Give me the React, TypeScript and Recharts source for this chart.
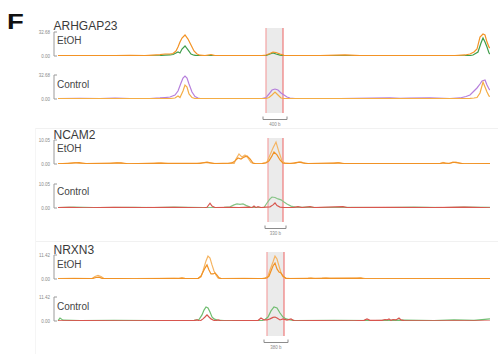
import React from 'react';
import { LineChart, Line, XAxis, YAxis, ReferenceArea, ReferenceLine } from 'recharts';

type Pt = [number, number];

// x = genomic bin index across the locus window (0..436), y = normalized signal
const panelGenes = ['ARHGAP23', 'NCAM2', 'NRXN3'];
const trackNames = ['EtOH', 'Control'];
const panelMax = [32.68, 10.05, 11.42];
const regionStart = [212, 214, 213];
const regionEnd = [229, 229, 230];
const scaleStart = [209, 211, 210];
const scaleEnd = [233, 232, 234];
const scaleLabels = ['400 b', '330 b', '380 b'];

// ARHGAP23 EtOH
const arhEtohGreen: Pt[] = [[4,0.3],[16,0.3],[31,0.3],[46,0.4],[61,0.3],[76,0.5],[91,0.3],[106,0.7],[111,1.1],[116,1.4],[119,2.0],[122,4.1],[124,5.4],[126,4.1],[128,9.5],[131,13.6],[134,8.2],[137,2.7],[140,1.1],[143,0.5],[146,0.4],[151,0.3],[157,0.5],[161,0.3],[176,0.3],[196,0.3],[208,0.3],[212,0.7],[216,2.7],[219,4.1],[222,2.7],[226,1.1],[230,0.5],[236,0.3],[246,0.3],[266,0.3],[291,0.7],[306,0.3],[326,0.3],[346,0.3],[366,0.5],[386,0.3],[401,0.3],[411,0.4],[416,0.7],[419,1.4],[424,5.4],[427,17.7],[429,24.5],[431,19.0],[433,12.2],[435,4.1],[436,2.7]];
const arhEtohOrange: Pt[] = [[4,0.4],[16,0.5],[31,0.4],[46,0.7],[61,0.4],[76,0.8],[91,0.4],[106,2.0],[111,2.7],[116,2.7],[119,3.4],[122,6.8],[124,12.2],[126,19.0],[128,24.5],[131,28.6],[134,23.1],[137,15.0],[140,6.8],[143,2.7],[146,1.1],[151,0.5],[157,2.0],[161,0.5],[176,0.4],[196,0.5],[208,0.5],[212,1.4],[216,3.4],[219,5.4],[222,4.8],[226,2.7],[230,0.8],[236,0.5],[246,0.4],[266,0.5],[291,1.6],[306,0.4],[326,0.5],[346,0.4],[366,0.5],[386,0.4],[401,0.7],[411,1.4],[416,2.7],[420,5.4],[423,9.5],[426,25.8],[429,29.9],[431,28.6],[433,19.0],[435,12.2],[436,10.9]];
// ARHGAP23 Control
const arhCtrlPurple: Pt[] = [[4,0.4],[26,0.8],[46,0.5],[61,1.1],[76,0.5],[96,0.7],[106,1.4],[111,2.0],[116,2.7],[121,5.4],[124,10.9],[127,21.8],[129,28.6],[131,31.3],[133,28.6],[135,20.4],[138,9.5],[141,3.4],[144,1.4],[146,0.7],[161,0.5],[176,0.7],[196,0.4],[208,0.5],[212,2.0],[215,6.8],[218,12.2],[221,13.6],[224,12.2],[227,8.2],[230,5.4],[233,2.7],[236,1.4],[241,0.7],[246,0.4],[286,0.5],[336,1.4],[346,0.8],[356,1.1],[376,1.4],[396,0.7],[406,1.4],[412,3.4],[416,5.4],[420,10.9],[423,15.0],[426,20.4],[428,24.5],[431,25.8],[433,19.0],[435,13.6],[436,12.2]];
const arhCtrlOrange: Pt[] = [[4,0.4],[16,0.5],[31,0.4],[46,0.5],[61,0.4],[76,0.7],[91,0.4],[106,0.5],[116,0.7],[121,1.4],[124,4.1],[126,2.0],[129,10.9],[131,19.0],[133,16.3],[135,6.8],[138,2.0],[141,0.7],[146,0.4],[161,0.5],[176,0.4],[196,0.5],[208,0.4],[212,0.7],[215,2.0],[218,5.4],[221,9.5],[224,5.4],[227,1.4],[230,0.7],[236,0.5],[246,0.4],[286,0.7],[336,0.5],[376,0.5],[406,0.7],[416,0.8],[420,1.4],[423,2.0],[426,8.2],[429,23.1],[431,16.3],[433,9.5],[435,4.1],[436,3.4]];
// NCAM2 EtOH
const ncamEtohA: Pt[] = [[4,0.13],[14,0.2],[21,0.63],[28,0.2],[56,0.2],[63,0.55],[70,0.17],[100,0.17],[107,0.5],[114,0.17],[143,0.2],[150,0.63],[157,0.34],[162,0.13],[174,0.2],[178,0.63],[180,0.08],[182,2.1],[185,4.2],[188,2.9],[191,3.8],[194,2.5],[197,0.63],[200,0.17],[208,0.2],[213,0.84],[216,3.8],[219,6.7],[222,9.2],[225,5.0],[228,1.3],[231,0.34],[240,0.17],[244,0.63],[247,0.84],[251,0.17],[280,0.17],[284,0.63],[288,0.2],[330,0.13],[386,0.17],[389,0.63],[392,0.13],[397,0.42],[402,0.84],[407,0.2],[436,0.13]];
const ncamEtohB: Pt[] = [[4,0.1],[18,0.4],[25,0.6],[32,0.2],[60,0.4],[67,0.5],[74,0.1],[104,0.4],[110,0.3],[146,0.3],[153,0.8],[160,0.2],[178,0.4],[181,1.3],[184,2.5],[187,2.1],[190,2.9],[193,3.4],[196,2.1],[199,0.4],[202,0.1],[208,0.2],[212,0.4],[215,1.3],[218,3.4],[220,5.0],[223,3.8],[226,1.7],[229,0.4],[236,0.2],[245,0.8],[249,0.5],[254,0.2],[285,0.5],[290,0.2],[386,0.2],[390,0.5],[395,0.2],[399,0.8],[404,0.5],[410,0.1],[436,0.2]];
// NCAM2 Control
const ncamCtrlGreen: Pt[] = [[4,0.2],[20,0.4],[40,0.2],[80,0.3],[100,0.2],[120,0.4],[150,0.2],[170,0.3],[176,0.5],[180,1.3],[183,1.7],[186,1.5],[189,1.7],[192,1.1],[196,0.4],[200,0.3],[206,0.2],[210,0.2],[213,2.1],[216,3.8],[218,4.6],[221,4.4],[224,3.8],[227,3.4],[230,2.5],[233,1.7],[237,0.8],[242,0.3],[256,0.4],[262,0.2],[290,0.3],[330,0.2],[360,0.4],[390,0.2],[410,0.4],[436,0.3]];
const ncamCtrlRed: Pt[] = [[4,0.2],[15,0.3],[30,0.1],[60,0.3],[90,0.2],[120,0.3],[150,0.1],[153,0.3],[156,2.0],[158,0.8],[161,0.2],[175,0.3],[185,0.2],[195,0.4],[198,0.1],[200,0.8],[202,0.1],[204,0.6],[207,0.2],[212,0.4],[216,0.5],[219,1.3],[221,2.1],[223,1.0],[226,0.4],[230,0.2],[240,0.3],[244,0.6],[248,0.2],[256,0.6],[260,0.2],[289,0.6],[293,0.2],[330,0.3],[380,0.2],[410,0.4],[436,0.1]];
// NRXN3 EtOH
const nrxEtohA: Pt[] = [[4,0.2],[20,0.3],[38,0.2],[41,1.2],[44,1.7],[47,1.2],[50,0.2],[80,0.2],[120,0.3],[125,0.2],[128,0.7],[131,0.3],[144,0.2],[147,1.0],[149,3.8],[152,8.6],[154,10.9],[156,10.0],[158,6.7],[160,3.8],[162,1.9],[164,0.5],[167,0.2],[190,0.3],[205,0.2],[211,0.2],[214,1.4],[216,4.3],[219,8.1],[221,10.9],[223,9.5],[225,6.2],[227,2.9],[229,1.0],[232,0.4],[236,0.2],[254,0.3],[257,0.6],[261,0.3],[268,0.4],[272,0.6],[276,0.3],[303,0.3],[307,0.6],[311,0.2],[360,0.2],[400,0.1],[436,0.1]];
const nrxEtohB: Pt[] = [[4,0.1],[39,0.3],[42,0.7],[45,0.9],[48,0.3],[80,0.1],[127,0.3],[130,0.2],[144,0.2],[147,1.4],[149,3.3],[151,5.2],[153,6.7],[155,4.3],[157,2.4],[159,2.4],[161,2.9],[163,1.9],[165,0.5],[168,0.1],[190,0.2],[208,0.2],[213,0.5],[215,1.4],[217,3.8],[219,6.2],[221,7.6],[223,4.8],[225,3.3],[227,2.9],[229,1.4],[232,0.2],[255,0.3],[259,0.2],[270,0.3],[306,0.4],[310,0.1],[436,0.2]];
// NRXN3 Control
const nrxCtrlGreen: Pt[] = [[4,0.2],[6,1.4],[9,0.4],[26,0.2],[60,0.3],[100,0.2],[140,0.3],[145,0.7],[148,2.9],[150,5.2],[152,6.7],[154,6.2],[156,4.3],[158,1.9],[160,1.0],[163,0.4],[170,0.2],[200,0.2],[208,0.2],[211,0.7],[214,1.9],[217,4.8],[220,6.7],[223,6.2],[226,3.8],[229,1.9],[232,1.0],[236,0.5],[241,0.2],[280,0.3],[320,0.2],[350,0.4],[380,0.2],[400,0.5],[420,0.3],[436,1.0]];
const nrxCtrlRed: Pt[] = [[4,0.1],[30,0.2],[70,0.1],[110,0.2],[140,0.2],[143,0.5],[146,0.0],[149,1.0],[151,1.9],[153,2.9],[155,1.9],[157,1.0],[159,0.5],[161,0.1],[164,0.5],[167,0.1],[190,0.2],[204,0.2],[207,1.4],[210,0.5],[213,0.5],[216,1.0],[219,1.7],[221,1.9],[223,1.4],[226,0.5],[229,1.0],[233,0.4],[237,1.0],[240,0.1],[260,0.2],[300,0.1],[310,0.3],[313,1.0],[316,0.3],[328,0.3],[331,0.7],[333,0.5],[335,1.0],[337,0.3],[339,0.7],[342,0.5],[345,1.4],[347,0.5],[350,0.2],[380,0.1],[420,0.1],[436,0.0]];

// ---- layout / style ----
const W = 498;
const PLOT_LEFT = 54;
const PLOT_RIGHT = 8;
const X_DOMAIN: [number, number] = [0, 436];
const FONT = '"Liberation Sans", Arial, Helvetica, sans-serif';

const bandTop = [28, 138, 252];
const bandBottom = [113, 222, 336];
const trackPlotTop = [[32, 75], [140, 184], [255, 297]];
const TRACK_H = 24;
const titleBaseline = [30, 138.5, 253.5];
const labelBaseline = [[44, 87.5], [152, 195], [267.5, 310]];

type SeriesDef = { data: Pt[]; color: string };
const trackSeries: SeriesDef[][][] = [
  [
    [{ data: arhEtohGreen, color: '#3f9d4a' }, { data: arhEtohOrange, color: '#f39325' }],
    [{ data: arhCtrlPurple, color: '#b67fdc' }, { data: arhCtrlOrange, color: '#f4ad45' }],
  ],
  [
    [{ data: ncamEtohA, color: '#f5b665' }, { data: ncamEtohB, color: '#f19225' }],
    [{ data: ncamCtrlGreen, color: '#86c486' }, { data: ncamCtrlRed, color: '#d8564e' }],
  ],
  [
    [{ data: nrxEtohA, color: '#f5b461' }, { data: nrxEtohB, color: '#f19225' }],
    [{ data: nrxCtrlGreen, color: '#71bd71' }, { data: nrxCtrlRed, color: '#d8554e' }],
  ],
];

const toRows = (pts: Pt[]) => pts.map(([x, y]) => ({ x, y }));

const AxisTick = (props: any) => {
  const { x, y, payload } = props;
  return (
    <g>
      <line x1={x + 3} x2={x + 6} y1={y} y2={y} stroke="#9a9a9a" strokeWidth={1} />
      <text x={x - 1} y={y} dy={1.6} textAnchor="end" fontSize={4.5} fill="#8a8a8a">
        {Number(payload.value).toFixed(2)}
      </text>
    </g>
  );
};

const ScaleBar = (props: any) => {
  const { x, y, width, height, text } = props;
  const by = y + height + 6.5;
  return (
    <g>
      <path d={`M${x},${by - 3}V${by}H${x + width}V${by - 3}`} stroke="#8c8c8c" strokeWidth={1} fill="none" />
      <text x={x + width / 2} y={by + 6.5} textAnchor="middle" fontSize={4.5} fill="#8a8a8a">{text}</text>
    </g>
  );
};

const BandChart = ({ p }: { p: number }) => {
  const h = bandBottom[p] - bandTop[p];
  const frame = [{ x: X_DOMAIN[0], y: 0 }, { x: X_DOMAIN[1], y: 1 }];
  return (
    <div style={{ position: 'absolute', left: 0, top: bandTop[p] }}>
      <LineChart width={W} height={h + 16} margin={{ top: 0, right: PLOT_RIGHT, bottom: 16, left: PLOT_LEFT }} data={frame}>
        <XAxis type="number" dataKey="x" domain={X_DOMAIN} hide />
        <YAxis type="number" domain={[0, 1]} hide />
        <Line dataKey="y" stroke="none" dot={false} activeDot={false} isAnimationActive={false} />
        <ReferenceArea x1={regionStart[p]} x2={regionEnd[p]} y1={0} y2={1} fill="#ebebeb" fillOpacity={1} stroke="none" ifOverflow="visible" />
        <ReferenceLine x={regionStart[p]} stroke="#f4a3a3" strokeWidth={1.2} ifOverflow="visible" />
        <ReferenceLine x={regionEnd[p]} stroke="#ef7a7a" strokeWidth={1.2} ifOverflow="visible" />
        <ReferenceArea
          x1={scaleStart[p]}
          x2={scaleEnd[p]}
          y1={0}
          y2={1}
          ifOverflow="visible"
          shape={(s: any) => <ScaleBar {...s} text={scaleLabels[p]} />}
        />
      </LineChart>
    </div>
  );
};

const TrackChart = ({ p, t }: { p: number; t: number }) => {
  const top = trackPlotTop[p][t];
  const max = panelMax[p];
  return (
    <div style={{ position: 'absolute', left: 0, top: top - 4 }}>
      <LineChart width={W} height={TRACK_H + 8} margin={{ top: 4, right: PLOT_RIGHT, bottom: 4, left: PLOT_LEFT - 24 }}>
        <XAxis type="number" dataKey="x" domain={X_DOMAIN} hide allowDataOverflow />
        <YAxis
          type="number"
          width={24}
          domain={[0, max]}
          ticks={[0, max]}
          interval={0}
          tickSize={0}
          tickMargin={3}
          tickLine={false}
          axisLine={{ stroke: '#9a9a9a', strokeWidth: 1 }}
          tick={(props: any) => <AxisTick {...props} />}
          allowDataOverflow
        />
        {trackSeries[p][t].map((s, i) => (
          <Line
            key={i}
            data={toRows(s.data)}
            dataKey="y"
            type="linear"
            dot={false}
            activeDot={false}
            stroke={s.color}
            strokeWidth={1.2}
            isAnimationActive={false}
          />
        ))}
      </LineChart>
    </div>
  );
};

export default function App() {
  return (
    <div style={{ position: 'absolute', left: 0, top: 0, width: W, height: 354, background: '#fff', fontFamily: FONT, overflow: 'hidden' }}>
      <div style={{ position: 'absolute', left: 35, top: 128, width: 463, height: 1, background: '#f1f1f1' }} />
      <div style={{ position: 'absolute', left: 35, top: 241, width: 463, height: 1, background: '#f1f1f1' }} />
      <div style={{ position: 'absolute', left: 35, top: 128, width: 1, height: 226, background: '#f5f5f5' }} />
      {[0, 1, 2].map((p) => <BandChart key={`b${p}`} p={p} />)}
      {[0, 1, 2].map((p) => [0, 1].map((t) => <TrackChart key={`t${p}${t}`} p={p} t={t} />))}
      <svg width={W} height={354} style={{ position: 'absolute', left: 0, top: 0, pointerEvents: 'none' }}>
        <text transform="translate(7,29) scale(1.25,1)" fontSize={22} fontWeight="bold" fill="#111">F</text>
        {panelGenes.map((g, p) => (
          <g key={g}>
            <text x={53.5} y={titleBaseline[p]} fontSize={12} fill="#3a3a3a">{g}</text>
            {trackNames.map((n, t) => (
              <text key={n} x={57} y={labelBaseline[p][t]} fontSize={10} fill="#444">{n}</text>
            ))}
          </g>
        ))}
      </svg>
    </div>
  );
}
